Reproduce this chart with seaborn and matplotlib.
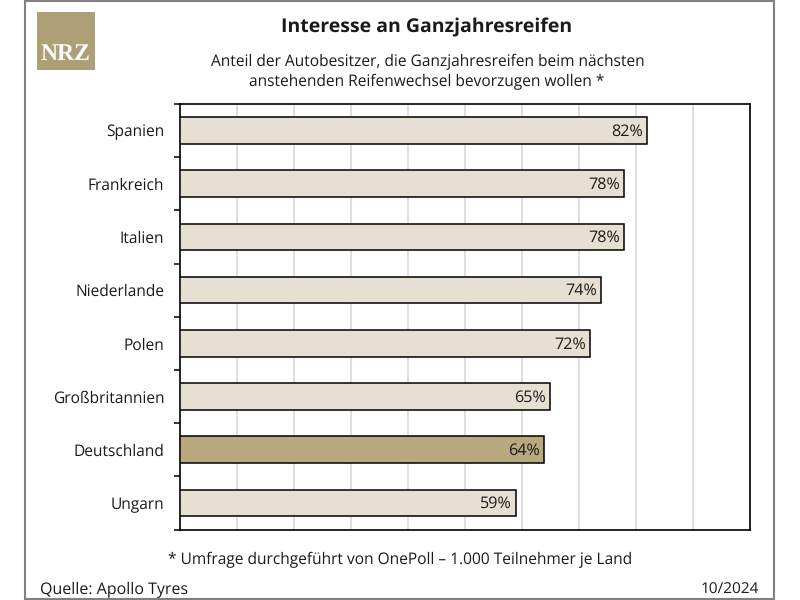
import matplotlib
matplotlib.use('Agg')
import matplotlib.pyplot as plt
import pandas as pd
import seaborn as sns
from matplotlib.patches import Rectangle

# Werte aus der Grafik
laender = ['Spanien', 'Frankreich', 'Italien', 'Niederlande', 'Polen',
           'Großbritannien', 'Deutschland', 'Ungarn']
anteile = [82, 78, 78, 74, 72, 65, 64, 59]
gruppen = ['andere', 'andere', 'andere', 'andere', 'andere', 'andere', 'deutschland', 'andere']
x_ticks = [0, 10, 20, 30, 40, 50, 60, 70, 80, 90, 100]

FARBEN = {'andere': '#e6e0d3', 'deutschland': '#b8a97e'}
GOLD = '#ada077'
TEXT = '#1a1a1a'
W, H = 800, 600

sns.set_theme(style='white')
plt.rcParams['font.family'] = ['Open Sans', 'DejaVu Sans']
plt.rcParams['text.hinting'] = 'no_hinting'
plt.rcParams['text.hinting_factor'] = 8

df = pd.DataFrame({'land': laender, 'anteil': anteile, 'gruppe': gruppen})

fig = plt.figure(figsize=(8, 6), dpi=100, facecolor='white')
ax = fig.add_axes([179.5 / W, 1 - 529.5 / H, 570 / W, 425.5 / H])

sns.barplot(data=df, x='anteil', y='land', hue='gruppe', palette=FARBEN, dodge=False,
            width=0.5, saturation=1, edgecolor='black', linewidth=1.1, legend=False,
            zorder=3, ax=ax)

ax.set_xlim(0, 100)
ax.set_ylim(len(laender) - 0.5, -0.5)
ax.set_xticks(x_ticks)
ax.set_xticklabels([])
ax.tick_params(axis='x', length=0)
ax.grid(axis='x', color='#d6d6d6', linewidth=1.1, zorder=0)
ax.set_axisbelow(True)
ax.set_xlabel('')
ax.set_ylabel('')

# Beschriftung mittig, Striche auf den Grenzen der Kategorien
ax.set_yticks(range(len(laender)))
ax.set_yticklabels(laender, fontsize=11.2, color=TEXT)
ax.tick_params(axis='y', which='major', length=0, pad=11)
ax.set_yticks([i - 0.5 for i in range(len(laender) + 1)], minor=True)
ax.tick_params(axis='y', which='minor', left=True, length=4, width=1.1, color='black')

for spine in ax.spines.values():
    spine.set_visible(True)
    spine.set_color('black')
    spine.set_linewidth(1.2)

for c in ax.containers:
    for t in ax.bar_label(c, fmt='%d%%', padding=-26, fontsize=11.6, color=TEXT, zorder=5):
        t.xyann = (-26, -0.7)

# Rahmen und Logo
fig.add_artist(Rectangle((25 / W, 1 / H), 749 / W, 598 / H, transform=fig.transFigure,
                         fill=False, edgecolor='#808080', linewidth=1.5))
fig.add_artist(Rectangle((37 / W, 1 - 70 / H), 57.5 / W, 58 / H, transform=fig.transFigure,
                         facecolor=GOLD, edgecolor='none'))
fig.text(65.5 / W, 1 - 54 / H, 'NRZ', color='white', fontsize=17, fontweight='bold',
         family='Liberation Serif', ha='center', va='center')

fig.text(427 / W, 1 - 27 / H, 'Interesse an Ganzjahresreifen', fontsize=14, fontweight='bold',
         color=TEXT, ha='center', va='center')
fig.text(427.5 / W, 1 - 62 / H, 'Anteil der Autobesitzer, die Ganzjahresreifen beim nächsten',
         fontsize=11.2, color=TEXT, ha='center', va='center')
fig.text(427 / W, 1 - 82 / H, 'anstehenden Reifenwechsel bevorzugen wollen *',
         fontsize=11.2, color=TEXT, ha='center', va='center')
fig.text(400.5 / W, 1 - 559.5 / H, '* Umfrage durchgeführt von OnePoll – 1.000 Teilnehmer je Land',
         fontsize=11.2, color=TEXT, ha='center', va='center')
fig.text(40 / W, 1 - 590 / H, 'Quelle: Apollo Tyres', fontsize=11.5, color=TEXT, ha='left', va='center')
fig.text(759 / W, 1 - 590 / H, '10/2024', fontsize=11.1, color=TEXT, ha='right', va='center')

fig.savefig('out.png', dpi=100)
plt.close(fig)
